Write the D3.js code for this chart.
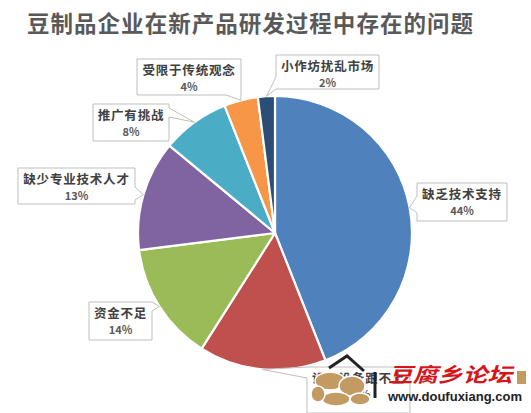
<!DOCTYPE html>
<html>
<head>
<meta charset="utf-8">
<script src="https://cdn.jsdelivr.net/npm/d3@7"></script>
<style>
  html, body { margin: 0; padding: 0; background: #fff; }
  svg { display: block; }
</style>
</head>
<body>
<svg id="chart" width="531" height="413"></svg>
<script>
// Problems reported by soy-product companies during new-product development
const titleText = "豆制品企业在新产品研发过程中存在的问题";
const categories = ["缺乏技术支持", "设施设备跟不上", "资金不足", "缺少专业技术人才", "推广有挑战", "受限于传统观念", "小作坊扰乱市场"];
const values = [44, 15, 14, 13, 8, 4, 2];
const colors = ["#4F81BD", "#C0504D", "#9BBB59", "#8064A2", "#4BACC6", "#F79646", "#2C4D75"];

// Callout boxes: [x, y, width, height, side carrying the pointer, pointer base start, pointer base end]
const calloutBoxes = [
  [417, 183, 90, 38, "L", 196, 213],
  [307, 367, 103, 46, "L", 367, 378],
  [89, 302, 63, 38, "R", 302, 311],
  [18, 168, 117, 36, "R", 187, 200],
  [93, 104, 76, 37, "R", 108, 117],
  [137, 59, 104, 36, "B", 226, 241],
  [276, 55, 103, 34, "L", 77, 89]
];

const svg = d3.select("#chart");
const cx = 275, cy = 233, r = 137;

svg.append("text")
  .attr("x", 250).attr("y", 32)
  .attr("text-anchor", "middle")
  .attr("font-family", "'Noto Sans CJK SC', sans-serif")
  .attr("font-size", 22.5).attr("font-weight", 700)
  .attr("textLength", 446).attr("lengthAdjust", "spacing")
  .attr("fill", "#595959")
  .text(titleText);

const data = categories.map((c, i) => ({ name: c, value: values[i], color: colors[i] }));
const pie = d3.pie().value(d => d.value).sort(null);
const arcs = pie(data);
const arc = d3.arc().innerRadius(0).outerRadius(r);
const edgeArc = d3.arc().innerRadius(r).outerRadius(r);

const g = svg.append("g").attr("transform", `translate(${cx},${cy})`);
g.selectAll("path.slice").data(arcs).join("path")
  .attr("class", "slice")
  .attr("d", arc)
  .attr("fill", d => d.data.color)
  .attr("stroke", "#fff")
  .attr("stroke-width", 2.2)
  .attr("stroke-linejoin", "round");

// Callout outline: box with a pointer running out to the slice edge
function calloutPath(box, tip) {
  const [x, y, w, h, side, a, b] = box;
  let p1, p2;
  if (side === "L") { p1 = [x, b]; p2 = [x, a]; }
  if (side === "R") { p1 = [x + w, a]; p2 = [x + w, b]; }
  if (side === "B") { p1 = [b, y + h]; p2 = [a, y + h]; }
  if (side === "T") { p1 = [a, y]; p2 = [b, y]; }
  const corners = { T: [x + w, y], R: [x + w, y + h], B: [x, y + h], L: [x, y] };
  const order = ["T", "R", "B", "L"];
  const start = order.indexOf(side);
  const pts = [p2];
  for (let k = 0; k < 4; k++) pts.push(corners[order[(start + k) % 4]]);
  pts.push(p1, tip);
  return "M" + pts.map(p => p.join(",")).join("L") + "Z";
}

const labels = svg.append("g");
arcs.forEach((d, i) => {
  const box = calloutBoxes[i];
  const c = edgeArc.centroid(d);
  const tip = [cx + c[0], cy + c[1]];
  const [x, y, w] = box;
  labels.append("path")
    .attr("d", calloutPath(box, tip))
    .attr("fill", "#fff")
    .attr("stroke", "#BFBFBF")
    .attr("stroke-width", 1);
  labels.append("text")
    .attr("x", x + w / 2).attr("y", y + 16)
    .attr("text-anchor", "middle")
    .attr("font-family", "'Noto Sans CJK SC', sans-serif")
    .attr("font-size", 12.5).attr("font-weight", 700)
    .attr("letter-spacing", 0.8)
    .attr("fill", "#404040")
    .text(d.data.name);
  labels.append("text")
    .attr("x", x + w / 2).attr("y", y + 32)
    .attr("text-anchor", "middle")
    .attr("font-family", "'Noto Sans CJK SC', sans-serif")
    .attr("font-size", 11).attr("font-weight", 700)
    .attr("fill", "#595959")
    .text(d.data.value + "%");
});

// Site mark in the lower right corner
const mark = svg.append("g");
mark.append("path")
  .attr("d", "M329,368L347,356L364,371M375,372L375,398")
  .attr("fill", "none").attr("stroke", "#222").attr("stroke-width", 3);
[[330, 381, 15, 9], [352, 386, 13, 10], [336, 399, 14, 7], [360, 399, 10, 6], [318, 394, 7, 8]].forEach(e => {
  mark.append("ellipse")
    .attr("cx", e[0]).attr("cy", e[1]).attr("rx", e[2]).attr("ry", e[3])
    .attr("fill", "#C49A63").attr("stroke", "#fff").attr("stroke-width", 1.5);
});
mark.append("text")
  .attr("x", 388).attr("y", 382)
  .attr("font-family", "'Noto Sans CJK SC', sans-serif")
  .attr("font-size", 20).attr("font-weight", 700)
  .attr("font-style", "italic")
  .attr("textLength", 124).attr("lengthAdjust", "spacingAndGlyphs")
  .attr("fill", "#D7141A")
  .text("豆腐乡论坛");
mark.append("rect").attr("x", 517).attr("y", 371).attr("width", 9).attr("height", 13).attr("fill", "#C49A63");
mark.append("text")
  .attr("x", 388).attr("y", 401)
  .attr("font-family", "'Liberation Sans', Arial, sans-serif")
  .attr("font-size", 12.5).attr("font-weight", 700)
  .attr("textLength", 134).attr("lengthAdjust", "spacingAndGlyphs")
  .attr("fill", "#222")
  .text("www.doufuxiang.com");
</script>
</body>
</html>
